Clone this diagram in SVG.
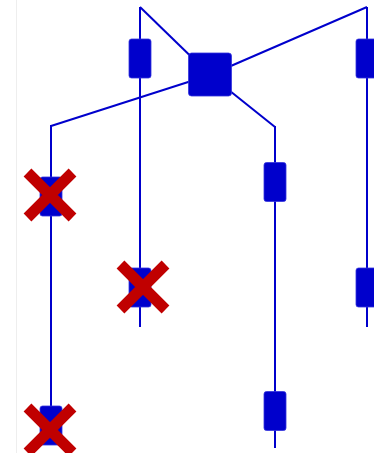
<svg xmlns="http://www.w3.org/2000/svg" width="374" height="453" viewBox="0 0 374 453">
<style>
.ln{stroke:#0000cc;stroke-width:2;fill:none}
.bx{fill:#0000cc;stroke:#3333dd;stroke-width:0.8}
.x{stroke:#c00000;stroke-width:11;stroke-linecap:butt}
</style>
<rect width="374" height="453" fill="#ffffff"/>
<line x1="16.5" y1="0" x2="16.5" y2="453" stroke="#eeeeee" stroke-width="1"/>
<g id="connectors">
<line class="ln" x1="140" y1="7" x2="210" y2="75"/>
<line class="ln" x1="367" y1="7" x2="210" y2="75"/>
<line class="ln" x1="51" y1="126" x2="210" y2="75"/>
<line class="ln" x1="275" y1="127" x2="210" y2="75"/>
<line class="ln" x1="140" y1="7" x2="140" y2="327"/>
<line class="ln" x1="367" y1="7" x2="367" y2="327"/>
<line class="ln" x1="51" y1="125" x2="51" y2="420"/>
<line class="ln" x1="275" y1="126" x2="275" y2="448"/>
</g>
<g id="center"><rect class="bx" x="188.5" y="53" width="43" height="43" rx="3"/></g>
<g id="n1"><rect class="bx" x="129" y="39" width="22" height="39" rx="2.5"/></g>
<g id="n2"><rect class="bx" x="129" y="268" width="22" height="39" rx="2.5"/></g>
<g id="n3"><rect class="bx" x="356" y="39" width="22" height="39" rx="2.5"/></g>
<g id="n4"><rect class="bx" x="356" y="268" width="22" height="39" rx="2.5"/></g>
<g id="n5"><rect class="bx" x="40" y="177" width="22" height="39" rx="2.5"/></g>
<g id="n6"><rect class="bx" x="40" y="406" width="22" height="39" rx="2.5"/></g>
<g id="n7"><rect class="bx" x="264" y="162.5" width="22" height="39" rx="2.5"/></g>
<g id="n8"><rect class="bx" x="264" y="391.5" width="22" height="39" rx="2.5"/></g>
<g id="marks">
<path class="x" d="M27.5,172.5 L72.5,217.5 M72.5,172.5 L27.5,217.5"/>
<path class="x" d="M120.5,264.5 L165.5,309.5 M165.5,264.5 L120.5,309.5"/>
<path class="x" d="M27.5,407.5 L72.5,452.5 M72.5,407.5 L27.5,452.5"/>
</g>
</svg>
